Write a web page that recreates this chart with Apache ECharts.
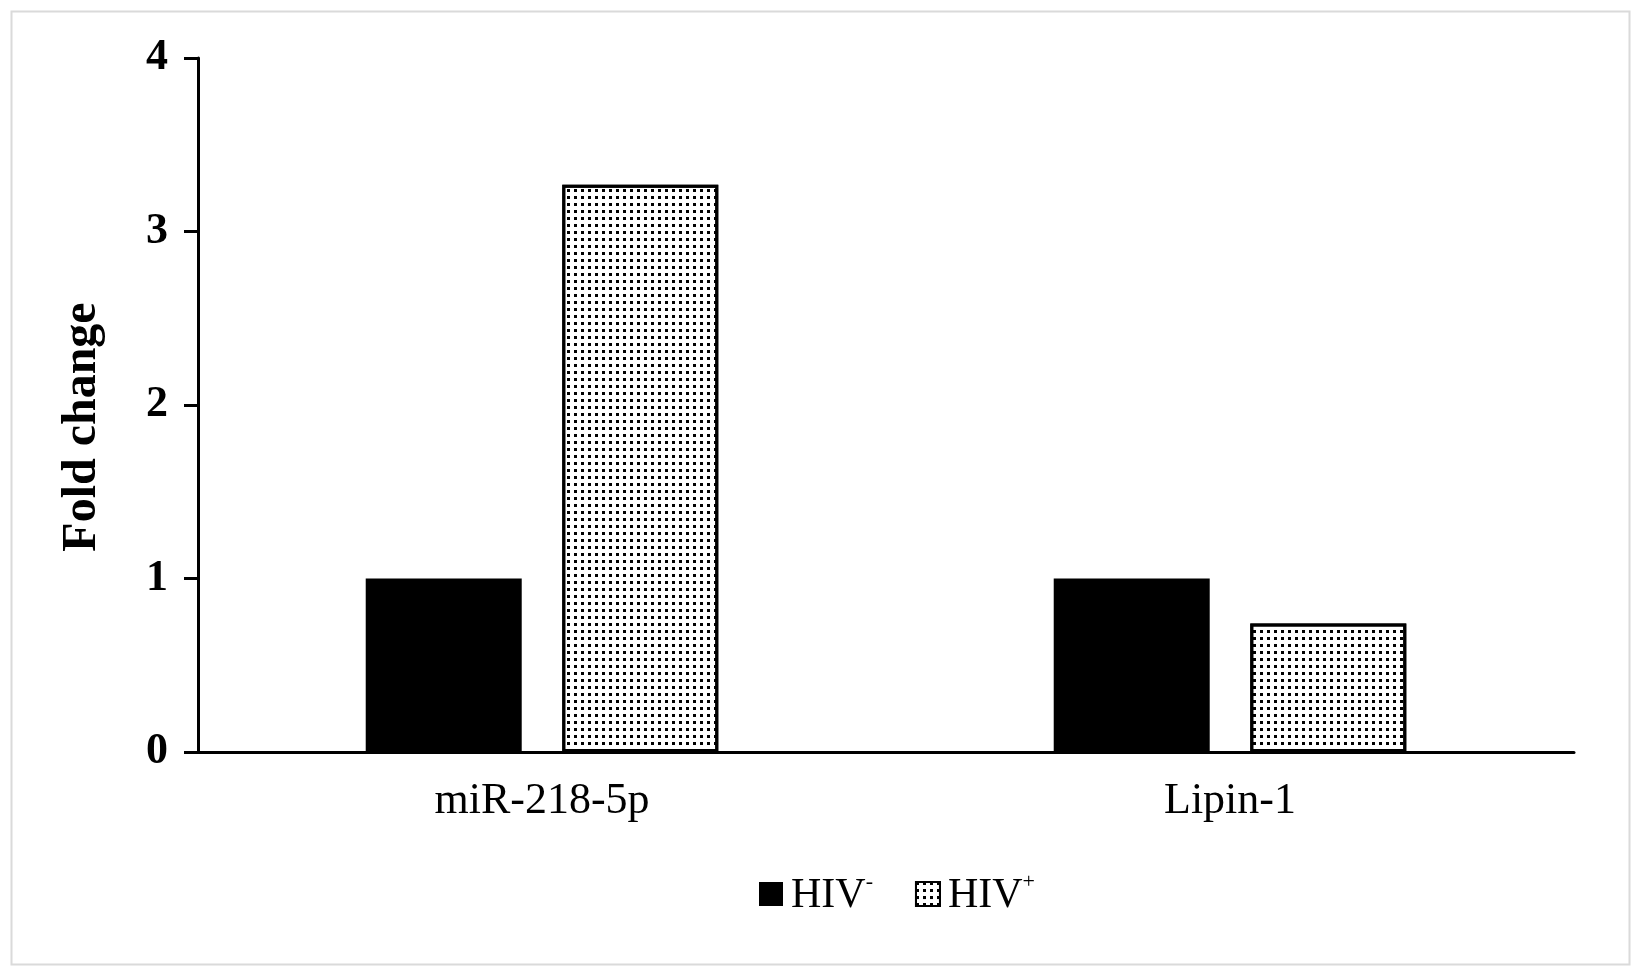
<!DOCTYPE html>
<html>
<head>
<meta charset="utf-8">
<style>
html,body{margin:0;padding:0;background:#fff;}
#chart{width:1639px;height:972px;}
</style>
<script src="https://cdn.jsdelivr.net/npm/echarts@6/dist/echarts.min.js"></script>
</head>
<body>
<div id="chart"></div>
<script>
var categories = ['miR-218-5p', 'Lipin-1'];
var hivNeg = [1.0, 1.0];
var hivPos = [3.27, 0.74];
var yTicks = [0, 1, 2, 3, 4];
var seriesNames = ['HIV-', 'HIV+'];

var serif = '"Liberation Serif", "Times New Roman", serif';
var chart = echarts.init(document.getElementById('chart'));
chart.setOption({
  backgroundColor: '#fff',
  animation: false,
  graphic: [{
    type: 'rect', left: 9, top: 9, z: -1,
    shape: { width: 1618, height: 953 },
    style: { fill: 'none', stroke: '#dadada', lineWidth: 2 }
  }],
  grid: { left: 198, right: 65, top: 58, bottom: 220 },
  legend: {
    left: 754, top: 866,
    icon: 'rect',
    itemWidth: 24, itemHeight: 24, itemGap: 42,
    data: seriesNames,
    formatter: function (name) {
      return '{m|HIV}{s|' + (name === 'HIV-' ? '-' : '+') + '}';
    },
    textStyle: {
      fontFamily: serif, color: '#000', padding: [0, 0, 0, 3],
      rich: {
        m: { fontFamily: serif, fontSize: 42, color: '#000', verticalAlign: 'bottom', lineHeight: 46 },
        s: { fontFamily: serif, fontSize: 22, color: '#000', verticalAlign: 'top', lineHeight: 46, padding: [0, 0, 14, 0] }
      }
    }
  },
  xAxis: {
    type: 'category',
    data: categories,
    axisLine: { lineStyle: { color: '#000', width: 3 } },
    axisTick: { show: false },
    axisLabel: { color: '#000', fontFamily: serif, fontSize: 44, margin: 27 }
  },
  yAxis: {
    type: 'value',
    min: yTicks[0], max: yTicks[yTicks.length - 1], interval: 1,
    name: 'Fold change',
    nameLocation: 'middle',
    nameRotate: 90,
    nameGap: 91,
    nameTextStyle: { color: '#000', fontFamily: serif, fontSize: 48, fontWeight: 'bold', padding: [0, 44, 0, 0] },
    axisLine: { show: true, lineStyle: { color: '#000', width: 3 } },
    axisTick: { show: true, length: 14, lineStyle: { color: '#000', width: 3 } },
    splitLine: { show: false },
    axisLabel: { color: '#000', fontFamily: serif, fontSize: 44, fontWeight: 'bold', margin: 30 }
  },
  series: [{
    name: seriesNames[0],
    type: 'bar',
    data: hivNeg,
    barWidth: 156,
    barGap: '26%',
    itemStyle: { color: '#000' }
  }, {
    name: seriesNames[1],
    type: 'bar',
    data: hivPos,
    barWidth: 156,
    itemStyle: {
      color: '#fff',
      borderColor: '#000',
      borderWidth: 3,
      decal: {
        symbol: 'rect',
        symbolSize: 1,
        color: '#000',
        dashArrayX: [3, 4],
        dashArrayY: [3, 4],
        rotation: 0
      }
    }
  }]
});
</script>
</body>
</html>
